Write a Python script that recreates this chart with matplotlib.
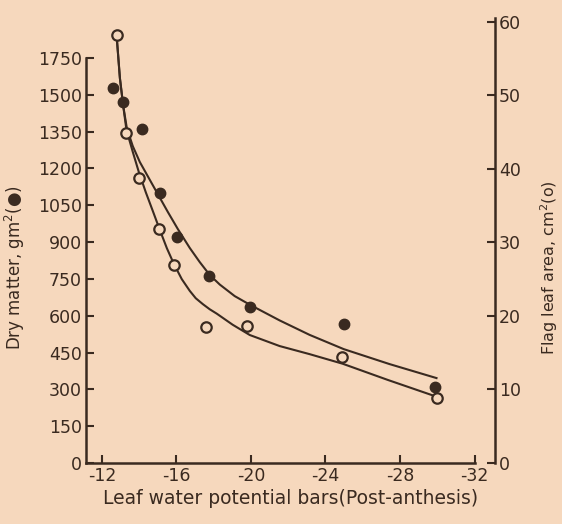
import matplotlib
matplotlib.use("Agg")
import matplotlib.pyplot as plt

# ---- data ----
dm_x = [-12.59, -13.11, -14.16, -15.11, -16.04, -17.75, -19.97, -24.98, -29.86]
dm_y = [1527, 1472, 1359, 1101, 919, 762, 634, 566, 308]

la_x = [-12.82, -13.27, -14.00, -15.07, -15.86, -17.58, -19.79, -24.90, -29.98]
la_y = [58.2, 44.8, 38.7, 31.8, 26.9, 18.5, 18.6, 14.4, 8.8]

# fitted curves as drawn in the figure (traced)
dm_curve_x = [-12.79, -12.97, -13.15, -13.34, -13.66, -14.04, -14.52, -15.00, -15.54,
              -16.08, -16.72, -17.25, -17.79, -18.33, -19.13, -19.94, -21.54, -23.15,
              -24.98, -27.44, -29.96]
dm_curve_y = [1744, 1568, 1454, 1365, 1291, 1226, 1161, 1096, 1023,
              953, 876, 819, 766, 727, 680, 645, 581, 522,
              464, 403, 346]

la_curve_x = [-12.79, -12.97, -13.15, -13.32, -13.66, -13.98, -14.36, -14.73, -15.11,
              -15.49, -15.86, -16.29, -16.72, -17.04, -17.42, -17.79, -18.17, -19.02,
              -19.94, -21.54, -23.15, -24.92, -27.34, -29.75]
la_curve_y = [58.2, 52.3, 48.5, 45.3, 42.3, 39.6, 36.8, 34.3, 31.7,
              29.2, 27.1, 25.0, 23.4, 22.4, 21.6, 20.9, 20.3, 18.8,
              17.4, 15.9, 14.8, 13.5, 11.3, 9.2]

x_ticks = [-12, -16, -20, -24, -28, -32]
x_labels = ["-12", "-16", "-20", "-24", "-28", "-32"]
left_ticks = [0, 150, 300, 450, 600, 750, 900, 1050, 1200, 1350, 1500, 1650]
left_labels = ["0", "150", "300", "450", "600", "750", "900", "1050", "1200", "1350", "1500", "1750"]
right_ticks = [0, 10, 20, 30, 40, 50, 60]
right_labels = ["0", "10", "20", "30", "40", "50", "60"]

bg = "#f6d8bd"
ink = "#3a2a20"
fs = 12.5

fig = plt.figure(figsize=(5.62, 5.24), dpi=100, facecolor=bg)
ax = fig.add_axes([86/562, 1-463/524, (495-86)/562, (463-18)/524])
ax.set_facecolor(bg)
ax2 = ax.twinx()

ax.set_xlim(-11.15, -33.1)
ax.set_ylim(0, 1813)
ax2.set_ylim(0, 60.5)

ax.plot(dm_curve_x, dm_curve_y, color=ink, lw=1.5, zorder=2, solid_joinstyle='round')
ax.plot(dm_x, dm_y, 'o', color=ink, ms=7.5, zorder=3)
ax2.plot(la_curve_x, la_curve_y, color=ink, lw=1.5, zorder=2, solid_joinstyle='round')
ax2.plot(la_x, la_y, 'o', mfc=bg, mec=ink, mew=1.6, ms=7.5, zorder=3)

for a in (ax, ax2):
    for s in a.spines.values():
        s.set_color(ink)
        s.set_linewidth(1.8)
    a.spines['top'].set_visible(False)

ax.spines['right'].set_visible(False)
ax2.spines['left'].set_visible(False)
ax2.spines['bottom'].set_visible(False)
ax.spines['left'].set_bounds(0, 1650)
ax.spines['bottom'].set_bounds(-11.15, -32)

ax.set_xticks(x_ticks)
ax.set_xticklabels(x_labels)
ax.set_yticks(left_ticks)
ax.set_yticklabels(left_labels)
ax2.set_yticks(right_ticks)
ax2.set_yticklabels(right_labels)

ax.tick_params(axis='both', direction='in', length=6, width=1.5, color=ink,
               labelcolor=ink, labelsize=fs, pad=3)
ax2.tick_params(axis='y', direction='in', length=6, width=1.5, color=ink,
                labelcolor=ink, labelsize=fs, pad=3)

ax.set_xlabel("Leaf water potential bars(Post-anthesis)", color=ink, fontsize=13.5, labelpad=3)
ax.set_ylabel("Dry matter, gm$^{2}$(●)", color=ink, fontsize=12)
ax.yaxis.set_label_coords(-0.145, 0.44)
ax2.set_ylabel("Flag leaf area, cm$^{2}$(o)", color=ink, fontsize=11.5, rotation=90)
ax2.yaxis.set_label_coords(1.105, 0.44)

fig.savefig("out.png", dpi=100, facecolor=bg)
